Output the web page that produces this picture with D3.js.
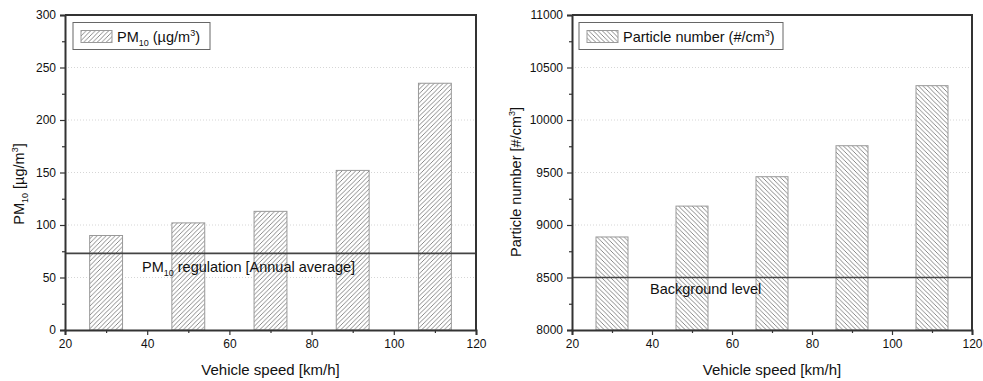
<!DOCTYPE html>
<html>
<head>
<meta charset="utf-8">
<script src="https://d3js.org/d3.v7.min.js"></script>
<style>
body { margin: 0; background: white; }
text { font-family: "Liberation Sans", Arial, sans-serif; fill: #111; }
</style>
</head>
<body>
<svg id="chart" width="983" height="381"></svg>
<script>
// data
var speeds = [30, 50, 70, 90, 110];
var pm10 = [90, 102, 113, 152, 235];
var particles = [8886, 9180, 9460, 9755, 10327];
var pmRegulation = 73;
var backgroundLevel = 8500;
var pmTicks = [0, 50, 100, 150, 200, 250, 300];
var pnTicks = [8000, 8500, 9000, 9500, 10000, 10500, 11000];
var speedTicks = [20, 40, 60, 80, 100, 120];

var svg = d3.select('#chart');
var defs = svg.append('defs');

function hatch(id, dir) {
  var p = defs.append('pattern')
    .attr('id', id)
    .attr('patternUnits', 'userSpaceOnUse')
    .attr('width', 4.5).attr('height', 4.5);
  p.append('rect').attr('width', 4.5).attr('height', 4.5).attr('fill', 'white');
  var d = dir > 0 ? 'M-1,1 L1,-1 M0,4.5 L4.5,0 M3.5,5.5 L5.5,3.5' : 'M-1,3.5 L1,5.5 M0,0 L4.5,4.5 M3.5,-1 L5.5,1';
  p.append('path').attr('d', d).attr('stroke', '#555').attr('stroke-width', 0.7);
}
hatch('fwd', 1);
hatch('back', -1);

function panel(opt) {
  var x = d3.scaleLinear().domain([20, 120]).range([opt.left, opt.right]);
  var y = d3.scaleLinear().domain(opt.domain).range([330, 15]);
  var g = svg.append('g');

  // gridlines
  g.append('g')
    .selectAll('line')
    .data(opt.ticks.slice(1, -1))
    .enter().append('line')
      .attr('x1', opt.left).attr('x2', opt.right)
      .attr('y1', function(d) { return y(d); })
      .attr('y2', function(d) { return y(d); })
      .attr('stroke', '#ccc')
      .attr('stroke-width', 0.8)
      .attr('stroke-dasharray', '1,2');

  // bars
  var bw = x(34) - x(26);
  g.append('g')
    .selectAll('rect')
    .data(opt.values)
    .enter().append('rect')
      .attr('x', function(d, i) { return x(speeds[i]) - bw / 2; })
      .attr('y', function(d) { return y(d); })
      .attr('width', bw)
      .attr('height', function(d) { return y(opt.domain[0]) - y(d); })
      .attr('fill', 'url(#' + opt.pattern + ')')
      .attr('stroke', '#999')
      .attr('stroke-width', 1);

  // reference line
  g.append('line')
    .attr('x1', opt.left).attr('x2', opt.right)
    .attr('y1', y(opt.refValue)).attr('y2', y(opt.refValue))
    .attr('stroke', '#444')
    .attr('stroke-width', 1.6);

  // axes
  g.append('g')
    .attr('transform', 'translate(0,330)')
    .call(d3.axisBottom(x).tickValues(speedTicks).tickSize(5).tickPadding(4));
  g.append('g')
    .attr('transform', 'translate(0,330)')
    .call(d3.axisBottom(x).tickValues(d3.range(30, 120, 20)).tickSize(3).tickFormat(''))
    .select('.domain').remove();
  g.append('g')
    .attr('transform', 'translate(' + opt.left + ',0)')
    .call(d3.axisLeft(y).tickValues(opt.ticks).tickSize(5).tickPadding(4).tickFormat(d3.format('d')));
  var step = opt.ticks[1] - opt.ticks[0];
  g.append('g')
    .attr('transform', 'translate(' + opt.left + ',0)')
    .call(d3.axisLeft(y).tickValues(d3.range(opt.domain[0] + step / 2, opt.domain[1], step)).tickSize(3).tickFormat(''))
    .select('.domain').remove();

  g.selectAll('.tick text').style('font-size', '12px').style('font-family', '"Liberation Sans", Arial, sans-serif').attr('fill', '#222');
  g.selectAll('.tick line').attr('stroke', '#333').attr('stroke-width', 1.2);
  g.selectAll('.domain').attr('stroke', '#333').attr('stroke-width', 2);

  // top and right frame
  g.append('path')
    .attr('d', 'M' + opt.left + ',15 H' + opt.right + ' V330')
    .attr('fill', 'none')
    .attr('stroke', '#333')
    .attr('stroke-width', 2);

  // x title
  g.append('text')
    .attr('x', (opt.left + opt.right) / 2)
    .attr('y', 375)
    .attr('text-anchor', 'middle')
    .style('font-size', '15px')
    .text('Vehicle speed [km/h]');

  return { x: x, y: y, g: g };
}

var p1 = panel({ left: 65, right: 476, domain: [0, 300], ticks: pmTicks, values: pm10, pattern: 'fwd', refValue: pmRegulation });
var p2 = panel({ left: 572, right: 972, domain: [8000, 11000], ticks: pnTicks, values: particles, pattern: 'back', refValue: backgroundLevel });

// y titles
var t1 = p1.g.append('text')
  .attr('transform', 'translate(24,184) rotate(-90)')
  .attr('text-anchor', 'middle')
  .style('font-size', '14.5px');
t1.append('tspan').text('PM');
t1.append('tspan').attr('dy', 4).style('font-size', '9px').text('10');
t1.append('tspan').attr('dy', -4).text(' [\u00b5g/m');
t1.append('tspan').attr('dy', -6).style('font-size', '9px').text('3');
t1.append('tspan').attr('dy', 6).text(']');

var t2 = p2.g.append('text')
  .attr('transform', 'translate(521,182) rotate(-90)')
  .attr('text-anchor', 'middle')
  .style('font-size', '14.5px');
t2.append('tspan').text('Particle number [#/cm');
t2.append('tspan').attr('dy', -6).style('font-size', '9px').text('3');
t2.append('tspan').attr('dy', 6).text(']');

// reference labels
var r1 = p1.g.append('text')
  .attr('x', 142).attr('y', p1.y(pmRegulation) + 19)
  .style('font-size', '14.5px');
r1.append('tspan').text('PM');
r1.append('tspan').attr('dy', 4).style('font-size', '9px').text('10');
r1.append('tspan').attr('dy', -4).text(' regulation [Annual average]');

p2.g.append('text')
  .attr('x', 650).attr('y', p2.y(backgroundLevel) + 16)
  .style('font-size', '14.5px')
  .text('Background level');

// legends
function legend(x0, w, pattern, build) {
  var lg = svg.append('g');
  lg.append('rect')
    .attr('x', x0).attr('y', 22.5).attr('width', w).attr('height', 27)
    .attr('fill', 'white').attr('stroke', '#666').attr('stroke-width', 1);
  lg.append('rect')
    .attr('x', x0 + 8).attr('y', 30.5).attr('width', 31).attr('height', 12)
    .attr('fill', 'url(#' + pattern + ')').attr('stroke', '#999');
  var t = lg.append('text').attr('x', x0 + 44).attr('y', 42).style('font-size', '14.5px');
  build(t);
}
legend(73, 137, 'fwd', function(t) {
  t.append('tspan').text('PM');
  t.append('tspan').attr('dy', 4).style('font-size', '9px').text('10');
  t.append('tspan').attr('dy', -4).text(' (\u00b5g/m');
  t.append('tspan').attr('dy', -6).style('font-size', '9px').text('3');
  t.append('tspan').attr('dy', 6).text(')');
});
legend(579, 204, 'back', function(t) {
  t.append('tspan').text('Particle number (#/cm');
  t.append('tspan').attr('dy', -6).style('font-size', '9px').text('3');
  t.append('tspan').attr('dy', 6).text(')');
});
</script>
</body>
</html>
